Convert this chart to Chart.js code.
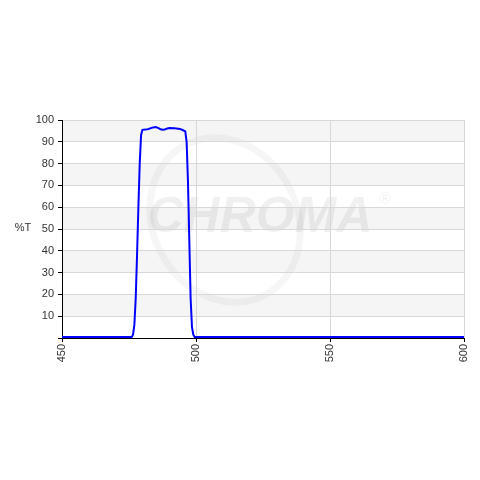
<!DOCTYPE html>
<html>
<head>
<meta charset="utf-8">
<script src="https://cdn.jsdelivr.net/npm/chart.js@4"></script>
<style>
html,body{margin:0;padding:0;background:#fff;}
#wrap{width:480px;height:480px;position:relative;}
</style>
</head>
<body>
<div id="wrap"><canvas id="c" width="480" height="480"></canvas></div>
<script>
const wavelengths = [450, 476, 476.5, 477, 477.5, 478, 478.5, 479, 479.5, 480, 482, 484, 485, 486, 487, 488, 489, 490, 492, 494, 495, 496, 496.5, 497, 497.5, 498, 498.5, 499, 499.5, 600];
const transmission = [0.5, 0.5, 1.5, 6, 18, 38, 60, 80, 93, 95.5, 95.8, 96.6, 96.8, 96.3, 95.6, 95.5, 96.0, 96.3, 96.2, 95.9, 95.4, 94.8, 90, 72, 45, 18, 5, 1.5, 0.5, 0.5];
const yTicks = [10, 20, 30, 40, 50, 60, 70, 80, 90, 100];
const xTicks = [450, 500, 550, 600];
const yTitle = '%T';
const watermark = 'CHROMA';

const points = wavelengths.map((w, i) => ({x: w, y: transmission[i]}));

const bandsPlugin = {
  id: 'bands',
  beforeDraw(chart) {
    const {ctx, chartArea: a, scales: {x, y}} = chart;
    ctx.save();
    ctx.fillStyle = '#f5f5f5';
    for (let v = 10; v < 100; v += 20) {
      const t = y.getPixelForValue(v + 10), b = y.getPixelForValue(v);
      ctx.fillRect(a.left, t, a.right - a.left, b - t);
    }
    // watermark
    ctx.strokeStyle = 'rgba(0,0,0,0.035)';
    ctx.lineWidth = 7;
    ctx.beginPath();
    ctx.ellipse(225, 220, 72, 85, -0.5, 0, Math.PI * 2);
    ctx.stroke();
    ctx.fillStyle = 'rgba(0,0,0,0.06)';
    ctx.font = 'italic bold 50px "Liberation Sans", Arial, sans-serif';
    ctx.textAlign = 'center';
    ctx.textBaseline = 'middle';
    ctx.fillText(watermark, 260, 218);
    ctx.font = '16px "Liberation Sans", Arial, sans-serif';
    ctx.fillText('®', 385, 200);
    ctx.restore();
  },
  afterDraw(chart) {
    const {ctx, scales: {y}} = chart;
    ctx.save();
    ctx.fillStyle = '#333';
    ctx.font = '11px "Liberation Sans", Arial, sans-serif';
    ctx.textAlign = 'center';
    ctx.textBaseline = 'middle';
    ctx.fillText(yTitle, 23, y.getPixelForValue(50) - 1);
    ctx.restore();
  }
};

new Chart(document.getElementById('c'), {
  type: 'line',
  data: {
    datasets: [{
      data: points,
      borderColor: '#0000ff',
      borderWidth: 2,
      pointRadius: 0,
      tension: 0,
      fill: false
    }]
  },
  options: {
    responsive: false,
    animation: false,
    events: [],
    layout: {padding: {left: 0, right: 16, top: 120, bottom: 0}},
    plugins: {legend: {display: false}, tooltip: {enabled: false}},
    scales: {
      x: {
        type: 'linear',
        min: 450, max: 600,
        afterBuildTicks(s) { s.ticks = xTicks.map(v => ({value: v})); },
        afterFit(s) { s.height = 142; },
        border: {color: '#000', width: 1},
        grid: {color: '#d8d8d8', tickColor: '#000', tickLength: 4, drawOnChartArea: true},
        ticks: {
          minRotation: 90, maxRotation: 90,
          color: '#333', padding: 2,
          font: {family: '"Liberation Sans", Arial, sans-serif', size: 11}
        }
      },
      y: {
        min: 0, max: 100,
        afterBuildTicks(s) { s.ticks = [{value: 0}].concat(yTicks.map(v => ({value: v}))); },
        afterFit(s) { s.width = 62; },
        border: {color: '#000', width: 1},
        grid: {color: '#d8d8d8', tickColor: '#000', tickLength: 4},
        ticks: {
          color: '#333', padding: 4,
          font: {family: '"Liberation Sans", Arial, sans-serif', size: 11},
          callback: v => v === 0 ? '' : String(v)
        }
      }
    }
  },
  plugins: [bandsPlugin]
});
</script>
</body>
</html>
